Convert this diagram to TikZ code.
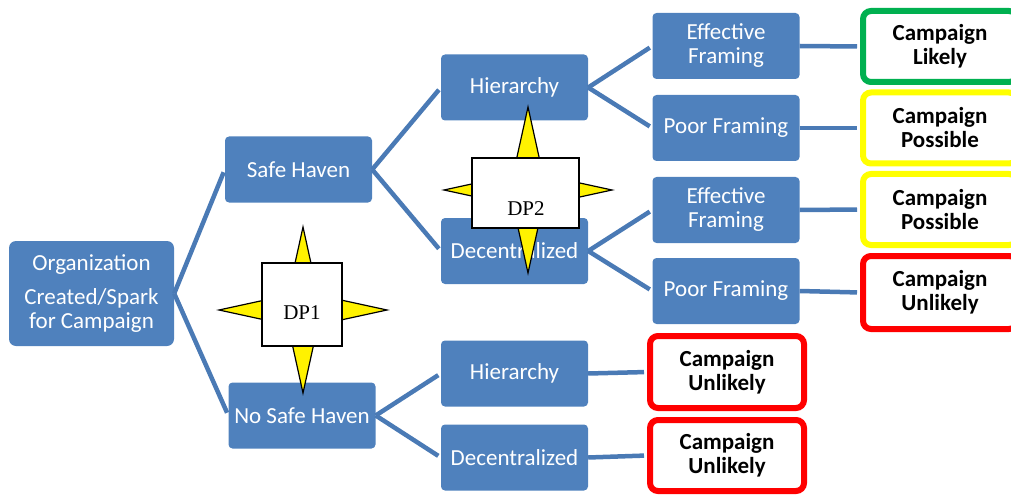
\documentclass[tikz,border=0pt]{standalone}
\usepackage{fontspec}
\setmainfont{Carlito}
\newfontfamily\dpfont{Liberation Serif}
\definecolor{boxblue}{HTML}{4F81BD}
\definecolor{linkblue}{HTML}{4A7AB5}
\definecolor{likelygreen}{HTML}{00B050}
\definecolor{possibleyellow}{HTML}{FFFF00}
\definecolor{unlikelyred}{HTML}{FF0000}

\begin{document}
\begin{tikzpicture}[x=1pt,y=-1pt,
  stage/.style={fill=boxblue, rounded corners=4pt, minimum width=147pt, minimum height=66pt,
    text=white, align=center, inner sep=1pt, font=\fontsize{23}{24}\selectfont},
  outcome/.style={draw=#1, line width=6pt, fill=white, rounded corners=8pt, minimum width=154pt,
    minimum height=71pt, align=center, inner sep=1pt, font=\bfseries\fontsize{23}{24}\selectfont},
  link/.style={draw=linkblue, line width=4.5pt, shorten >=3pt},
  dpstar/.style={draw=black, fill=yellow, line width=1.2pt},
  dpbox/.style={draw=black, fill=white, line width=1.2pt, inner sep=0pt},
  dplabel/.style={font=\dpfont\fontsize{21}{21}\selectfont, inner sep=0pt}]
\useasboundingbox (0,0) rectangle (1011,497);

% root
\node[stage, minimum width=165pt, minimum height=105pt, rounded corners=7pt] (org) at (91.5,293.5)
  {Organization\\[10pt]Created/Spark\\for Campaign};

% first split
\node[stage] (safe) at (298.5,169.5) {Safe Haven};
\node[stage] (nosafe) at (302,415.5) {No Safe Haven};

% second split
\node[stage] (hierA) at (514.5,87.5) {Hierarchy};
\node[stage] (decA) at (514.5,251) {Decentralized};
\node[stage] (hierB) at (514.5,373.5) {Hierarchy};
\node[stage] (decB) at (514.5,457.5) {Decentralized};

% framing
\node[stage] (effA) at (726,46) {Effective\\Framing};
\node[stage] (poorA) at (726,128) {Poor Framing};
\node[stage] (effB) at (726,210) {Effective\\Framing};
\node[stage] (poorB) at (726,291) {Poor Framing};

% outcomes (right column runs past the edge)
\node[outcome=likelygreen] (likely) at (940,46.5) {Campaign\\Likely};
\node[outcome=possibleyellow] (possA) at (940,128) {Campaign\\Possible};
\node[outcome=possibleyellow] (possB) at (940,209.5) {Campaign\\Possible};
\node[outcome=unlikelyred, minimum height=73pt] (unlA) at (940,292.5) {Campaign\\Unlikely};
\node[outcome=unlikelyred, minimum height=72pt] (unlB) at (727,372) {Campaign\\Unlikely};
\node[outcome=unlikelyred] (unlC) at (727,455.5) {Campaign\\Unlikely};

% links
\draw[link] (org.east) -- (safe.west);
\draw[link] (org.east) -- (nosafe.west);
\draw[link] (safe.east) -- (hierA.west);
\draw[link] (safe.east) -- (decA.west);
\draw[link] (nosafe.east) -- (hierB.west);
\draw[link] (nosafe.east) -- (decB.west);
\draw[link] (hierA.east) -- (effA.west);
\draw[link] (hierA.east) -- (poorA.west);
\draw[link] (decA.east) -- (effB.west);
\draw[link] (decA.east) -- (poorB.west);
\draw[link] (effA.east) -- (likely.west);
\draw[link] (poorA.east) -- (possA.west);
\draw[link] (effB.east) -- (possB.west);
\draw[link] (poorB.east) -- (unlA.west);
\draw[link] (hierB.east) -- (unlB.west);
\draw[link] (decB.east) -- (unlC.west);

% decision point 1
\draw[dpstar] (303,310) +(0,-83) -- +(15,-15) -- +(84,0) -- +(15,15) -- +(0,83)
  -- +(-15,15) -- +(-84,0) -- +(-15,-15) -- cycle;
\node[dpbox, minimum width=80pt, minimum height=83pt] (dpA) at (302,304.5) {};
\node[dplabel] (dpAtext) at (302,313) {DP1};

% decision point 2
\draw[dpstar] (528,190) +(0,-83) -- +(15,-15) -- +(84,0) -- +(15,15) -- +(0,83)
  -- +(-15,15) -- +(-84,0) -- +(-15,-15) -- cycle;
\node[dpbox, minimum width=107pt, minimum height=70pt] (dpB) at (525.5,193) {};
\node[dplabel] (dpBtext) at (526,209) {DP2};
\end{tikzpicture}
\end{document}
